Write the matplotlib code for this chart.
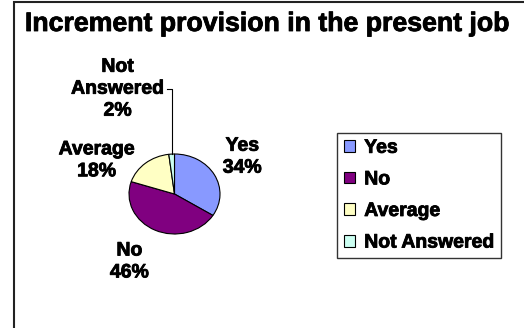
import matplotlib.pyplot as plt
import matplotlib.patheffects as pe
from matplotlib.lines import Line2D
import numpy as np

categories = ['Yes', 'No', 'Average', 'Not Answered']
shares = [34, 46, 18, 2]
colors = ['#8899FF', '#800080', '#FFFFC4', '#CCFFF2']
title = 'Increment provision in the present job'

# label offsets in pie units (radius = 1)
label_pos = {
    'Yes': (1.49, 0.92),
    'No': (-0.99, -1.70),
    'Average': (-1.71, 0.83),
    'Not Answered': (-1.25, 2.62),
}

W, H = 524, 328
plt.rcParams['font.family'] = ['Liberation Sans', 'DejaVu Sans']
heavy = [pe.withStroke(linewidth=0.6, foreground='black')]

fig = plt.figure(figsize=(W / 100, H / 100), dpi=100)

# chart border: left and top edges
fig.add_artist(Line2D([13.5 / W, 13.5 / W, 1.0], [0, 1 - 1.5 / H, 1 - 1.5 / H],
                      transform=fig.transFigure, color='#222222', lw=1.5,
                      solid_joinstyle='miter'))

fig.text(266 / W, 1 - 24 / H, title, ha='center', va='center',
         fontsize=19.2, fontweight='bold', path_effects=heavy)

# pie drawn slightly squashed (wider than tall)
ax = fig.add_axes([129 / W, 1 - 234 / H, 91 / W, 80 / H])
wedges, _ = ax.pie(shares, colors=colors, startangle=90, counterclock=False,
                   radius=1, wedgeprops=dict(edgecolor='black', linewidth=0.8))
for w in wedges:
    w.set_clip_on(False)
ax.set_aspect('auto')
ax.set_xlim(-1, 1)
ax.set_ylim(-1, 1)
ax.axis('off')

cum = np.cumsum(shares)
for cat, s, c in zip(categories, shares, cum):
    ang = np.deg2rad(360 * (c - s / 2) / 100)
    lx, ly = label_pos[cat]
    txt = cat.replace(' ', '\n') + '\n' + f'{s}%'
    ax.text(lx, ly, txt, ha='center', va='center', fontsize=14,
            fontweight='bold', linespacing=1.38, clip_on=False,
            path_effects=heavy)
    if cat == 'Not Answered':
        ex, ey = np.sin(ang), np.cos(ang)
        ax.plot([ex, ex, ex - 0.1], [ey, ly, ly], color='black', lw=0.8,
                clip_on=False)

leg = fig.legend(wedges, categories, loc='upper left',
                 bbox_to_anchor=(337 / W, 1 - 133 / H), frameon=True,
                 fancybox=False, edgecolor='black',
                 prop={'size': 14, 'weight': 'bold'},
                 handlelength=0.55, handleheight=0.55, handletextpad=0.5,
                 labelspacing=0.75, borderpad=0.35, borderaxespad=0)
leg.get_frame().set_linewidth(1)
for t in leg.get_texts():
    t.set_path_effects(heavy)

fig.savefig('out.png', dpi=100)
